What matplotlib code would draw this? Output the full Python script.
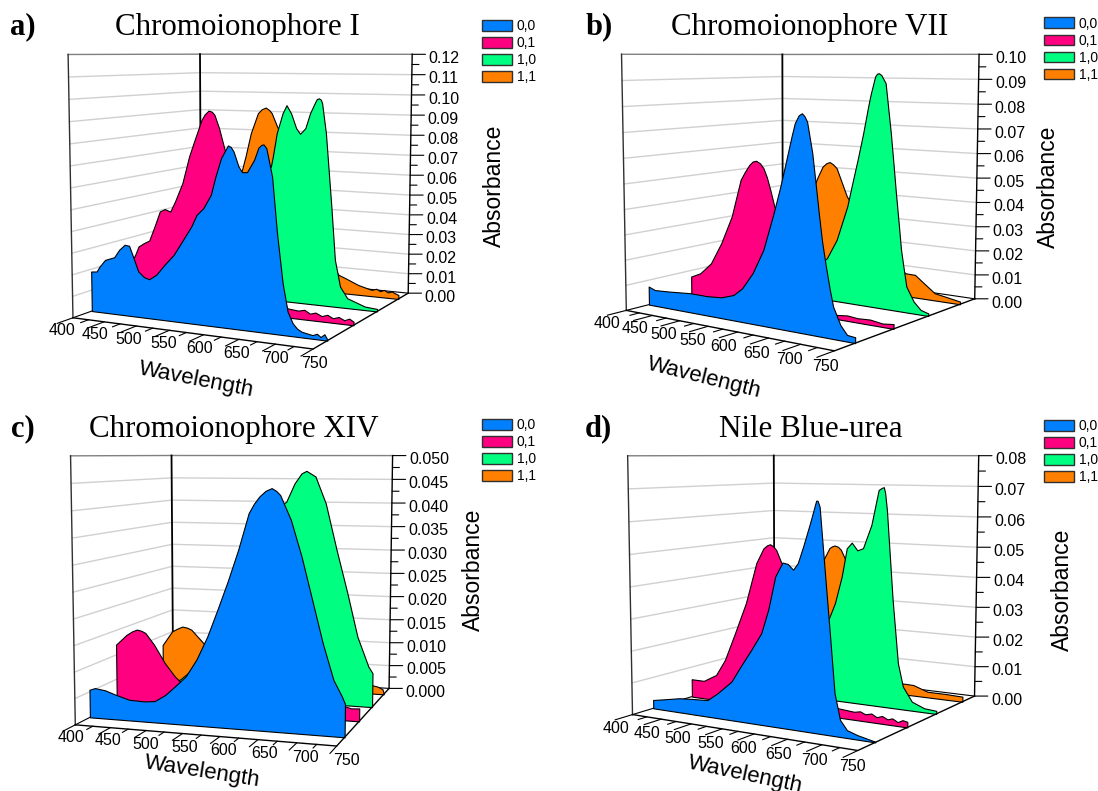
import numpy as np
from matplotlib import pyplot as plt
from matplotlib.patches import Patch
from mpl_toolkits.mplot3d.art3d import Poly3DCollection
from mpl_toolkits.mplot3d import proj3d

W, H = 1098, 791
S = 600.
plt.rcParams['font.family'] = ['Liberation Sans', 'DejaVu Sans']

SERIES = ['0,0', '0,1', '1,0', '1,1']
COLORS = ['#0080FF', '#FF0080', '#00FF80', '#FF8000']
DEPTH = [0.125, 0.375, 0.625, 0.875]

## panel a
A0_WL = [400,409,414,423,438,446,455,462,468,476,485,493,504,517,531,544,558,566,576,587,594,602,612,616,620,627,632,639,649,655,659,662,666,674,681,689,696,703,709,715,730,736,741,746,750]
A0_AB = [.0189,.0192,.0217,.0251,.0268,.0305,.0331,.0328,.0280,.0213,.0189,.0182,.0206,.0256,.0305,.0370,.0441,.0495,.0527,.0588,.0671,.0752,.0809,.0803,.0784,.0720,.0696,.0697,.0752,.0805,.0817,.0820,.0804,.0684,.0442,.0227,.0105,.0057,.0036,.0025,.0016,.0024,.0012,.0026,.0005]
A1_WL = [400,414,421,430,439,448,457,465,474,482,494,505,514,525,530,536,541,545,552,560,571,592,616,632,645,653,655,671,680,688,696,705,713,721,729,737,744,750]
A1_AB = [.0181,.0215,.0267,.0286,.0301,.0372,.0448,.0461,.0451,.0502,.0592,.0721,.0801,.0896,.0922,.0940,.0935,.0921,.0860,.0767,.0653,.0625,.0737,.0540,.0141,.0058,.0043,.0038,.0045,.0030,.0038,.0025,.0034,.0021,.0030,.0018,.0028,.0016]
A2_WL = [400,436,466,490,519,548,570,588,591,597,606,612,619,627,633,641,648,656,658,661,664,666,672,681,687,695,706,717,732,750]
A2_AB = [.0080,.0120,.0198,.0307,.0448,.0554,.0607,.0659,.0708,.0822,.0919,.0958,.0920,.0849,.0823,.0851,.0923,.0978,.0990,.0994,.0988,.0971,.0830,.0483,.0228,.0101,.0048,.0035,.0017,.0012]
A3_WL = [400,416,442,466,491,497,503,512,524,530,537,543,547,556,573,591,608,631,648,657,668,688,709,716,722,728,734,740,746,750]
A3_AB = [.0036,.0117,.0251,.0400,.0564,.0600,.0671,.0793,.0898,.0918,.0928,.0915,.0900,.0832,.0715,.0598,.0465,.0264,.0132,.0092,.0078,.0050,.0032,.0040,.0030,.0038,.0028,.0034,.0025,.0020]
## panel b
B0_WL = [400,412,439,478,510,535,556,571,589,607,624,635,647,653,658,664,669,673,677,685,690,695,700,706,712,717,728,738,750]
B0_AB = [.0074,.0064,.0068,.0076,.0076,.0081,.0098,.0129,.0193,.0286,.0426,.0526,.0648,.0710,.0757,.0785,.0793,.0783,.0764,.0654,.0550,.0444,.0345,.0256,.0175,.0117,.0055,.0024,.0021]
B1_WL = [400,418,439,459,479,496,504,512,518,524,531,537,543,549,556,579,603,632,655,661,678,694,714,733,750]
B1_AB = [.0074,.0094,.0143,.0233,.0348,.0501,.0535,.0564,.0578,.0582,.0573,.0555,.0520,.0471,.0407,.0281,.0170,.0089,.0026,.0016,.0021,.0017,.0020,.0013,.0018]
B2_WL = [400,458,492,524,556,582,599,617,625,634,643,651,655,662,665,668,672,679,688,693,697,702,706,711,715,727,738,750]
B2_AB = [.0000,.0024,.0043,.0076,.0115,.0172,.0253,.0394,.0485,.0584,.0690,.0797,.0845,.0914,.0925,.0927,.0920,.0889,.0697,.0570,.0465,.0345,.0245,.0165,.0103,.0047,.0019,.0010]
B3_WL = [400,423,458,485,501,511,518,524,530,537,547,556,575,601,625,650,661,676,691,709,729,750]
B3_AB = [.0040,.0077,.0209,.0365,.0464,.0516,.0532,.0538,.0530,.0514,.0451,.0395,.0328,.0248,.0170,.0107,.0096,.0095,.0065,.0030,.0021,.0011]
## panel c
C0_WL = [400,408,423,438,458,479,494,509,523,538,553,568,582,596,610,624,631,638,646,654,660,665,679,693,707,721,735,746,750]
C0_AB = [.0054,.0058,.0055,.0048,.0040,.0039,.0041,.0054,.0072,.0092,.0125,.0169,.0220,.0273,.0331,.0398,.0415,.0428,.0438,.0443,.0438,.0431,.0387,.0322,.0245,.0168,.0103,.0074,.0061]
C1_WL = [400,416,425,432,439,445,458,474,489,499,520,567,617,666,715,731,739,750]
C1_AB = [.0121,.0142,.0150,.0154,.0152,.0148,.0125,.0089,.0063,.0051,.0033,.0024,.0022,.0023,.0025,.0027,.0024,.0025]
C2_WL = [400,433,463,488,510,537,564,590,624,636,646,653,666,681,697,713,728,744,750]
C2_AB = [.0002,.0013,.0031,.0061,.0133,.0225,.0316,.0378,.0408,.0445,.0465,.0470,.0459,.0406,.0314,.0228,.0141,.0082,.0069]
C3_WL = [400,416,425,433,441,448,468,508,564,619,674,732,740,748,750]
C3_AB = [.0079,.0111,.0118,.0123,.0121,.0117,.0088,.0039,.0022,.0016,.0017,.0018,.0016,.0011,.0002]
## panel d
D0_WL = [400,421,446,470,494,511,534,549,566,582,593,604,615,623,631,638,646,656,665,667,670,677,685,692,700,710,725,750]
D0_AB = [.0027,.0035,.0045,.0049,.0052,.0078,.0120,.0170,.0224,.0278,.0350,.0450,.0492,.0489,.0473,.0493,.0542,.0609,.0674,.0674,.0657,.0488,.0298,.0126,.0050,.0023,.0013,.0002]
D1_WL = [400,422,444,460,478,497,515,527,533,538,543,548,556,578,605,628,641,647,671,680,688,697,705,713,721,728,736,743,750]
D1_AB = [.0059,.0059,.0084,.0138,.0230,.0331,.0462,.0510,.0520,.0524,.0518,.0507,.0469,.0396,.0338,.0176,.0033,.0029,.0025,.0029,.0022,.0027,.0018,.0024,.0016,.0021,.0012,.0020,.0017]
D2_WL = [400,412,460,510,552,578,590,601,609,617,626,635,648,659,664,667,669,672,682,691,699,713,732,750]
D2_AB = [.0005,.0012,.0060,.0140,.0205,.0260,.0323,.0412,.0504,.0523,.0499,.0507,.0582,.0693,.0700,.0702,.0685,.0631,.0348,.0147,.0074,.0029,.0013,.0010]
D3_WL = [400,427,467,498,520,529,533,538,544,549,557,578,608,632,652,672,695,723,750]
D3_AB = [.0020,.0066,.0232,.0367,.0446,.0482,.0488,.0492,.0488,.0478,.0444,.0332,.0199,.0089,.0037,.0036,.0019,.0019,.0017]

ZTICKS_A = [.00,.01,.02,.03,.04,.05,.06,.07,.08,.09,.10,.11,.12]
ZTICKS_B = [.00,.01,.02,.03,.04,.05,.06,.07,.08,.09,.10]
ZTICKS_C = [.000,.005,.010,.015,.020,.025,.030,.035,.040,.045,.050]
ZTICKS_D = [.00,.01,.02,.03,.04,.05,.06,.07,.08]
WLTICKS = [400,450,500,550,600,650,700,750]

TITLES = ['Chromoionophore I', 'Chromoionophore VII', 'Chromoionophore XIV', 'Nile Blue-urea']
LETTERS = ['a)', 'b)', 'c)', 'd)']

## view of each panel: elev, azim, focal length, zoom, aspect, axes left, axes bottom (px)
CAMS = [(6.580, -63.111, .3438, .7063, (1, .9992, 1.0000), -59.37, 301.64),
        (6.501, -53.318, .3399, .7062, (1, 1.0038, 1.0003), 496.46, 301.90),
        (6.557, -72.273, .3436, .7051, (1, 1.0046, .9999), -64.61, -99.22),
        (6.593, -58.436, .3405, .7044, (1, 1.0018, .9980), 501.71, -99.09)]

## tick label offsets (px) at 400 and at 750
WL_OFFS = [((-11.2, 12.7), (1.8, 14.7)), ((-19.2, 12.7), (-9.4, 16)), ((-3.9, 13), (10.2, 14.7)), ((-16.1, 13.7), (-5.9, 16))]
ABS_POS = [(494, 186), (1048, 187), (473, 570), (1062, 590)]
WAVE_POS = [(196, 380, -11), (704.5, 378, -14), (202, 772, -9), (745, 775, -12)]
TITLE_POS = [(237, 27), (810, 27), (234, 429), (811, 429)]
LETTER_POS = [(10, 27), (586, 27), (11, 429), (585, 429)]
LEG_POS = [(482, 19), (1043.7, 16.7), (482, 418), (1043.7, 419.3)]

fig = plt.figure(figsize=(W/100, H/100), dpi=100)


def draw_panel(i, data, zticks, fmt, zminor):
	elev, azim, focal, zoom, aspect, left, bottom = CAMS[i]
	zmax = zticks[-1]
	ax = fig.add_axes([left/W, bottom/H, S/W, S/H], projection='3d', computed_zorder=False)
	ax.set_xlim(400, 750, view_margin=0)
	ax.set_ylim(0, 1, view_margin=0)
	ax.set_zlim(0, zmax, view_margin=0)
	ax.view_init(elev=elev, azim=azim, roll=0)
	ax.set_proj_type('persp', focal_length=focal)
	ax.set_box_aspect(aspect, zoom=zoom)
	ax.set_axis_off()
	ax.patch.set_visible(False)
	M = ax.get_proj()

	## walls
	for z in zticks[1:-1]:
		ax.plot([400, 400, 750], [0, 1, 1], [z, z, z], color='#d0d0d0', lw=1, zorder=1)
	ax.plot([400, 400, 750], [0, 1, 1], [zmax]*3, color='#808080', lw=1, zorder=1)
	ax.plot([400, 400], [0, 0], [0, zmax], color='#303030', lw=1, zorder=1)
	ax.plot([400, 400], [1, 1], [0, zmax], color='k', lw=1.3, zorder=1)
	ax.plot([400, 400, 750], [0, 1, 1], [0, 0, 0], color='k', lw=.8, zorder=1)

	## spectra, back to front
	for k in (3, 2, 1, 0):
		wl, ab = data[k]
		verts = [(400, DEPTH[k], 0)] + [(a, DEPTH[k], b) for a, b in zip(wl, ab)] + [(750, DEPTH[k], 0)]
		poly = Poly3DCollection([verts], facecolors=COLORS[k], edgecolors='k', linewidths=.8, zorder=5-k+1)
		ax.add_collection3d(poly)

	## front edges
	ax.plot([400, 750, 750], [0, 0, 1], [0, 0, 0], color='k', lw=1, zorder=8)
	ax.plot([750, 750], [1, 1], [0, zmax], color='k', lw=1, zorder=8)

	## wavelength ticks
	for w in range(400, 751, 25):
		major = w in WLTICKS
		ax.plot([w, w], [0, -.10 if major else -.05], [0, 0], color='k', lw=.8, zorder=8)
	(dx0, dy0), (dx1, dy1) = WL_OFFS[i]
	for w in WLTICKS:
		t = (w-400)/350.
		x, y, _ = proj3d.proj_transform(w, 0, 0, M)
		ax.annotate(str(w), (x, y), xytext=(dx0+t*(dx1-dx0), -(dy0+t*(dy1-dy0))), textcoords='offset pixels',
					ha='center', va='center', fontsize=11.5)

	## absorbance ticks
	for z in np.arange(0, zmax+zminor/2, zminor):
		x, y, _ = proj3d.proj_transform(750, 1, z, M)
		major = int(round(z/zminor)) % 2 == 0
		ax.annotate('', (x, y), xytext=(13.3 if major else 7, 0), textcoords='offset pixels',
					arrowprops=dict(arrowstyle='-', lw=.8, color='k', shrinkA=0, shrinkB=0))
	for z in zticks:
		x, y, _ = proj3d.proj_transform(750, 1, z, M)
		ax.annotate(fmt % z, (x, y), xytext=(16.5, -4.3), textcoords='offset pixels',
					ha='left', va='center', fontsize=11.5)

	fig.text(ABS_POS[i][0]/W, 1-ABS_POS[i][1]/H, 'Absorbance', rotation=90, ha='center', va='center', fontsize=16.5)
	fig.text(WAVE_POS[i][0]/W, 1-WAVE_POS[i][1]/H, 'Wavelength', rotation=WAVE_POS[i][2], ha='center', va='center',
			fontsize=16, rotation_mode='anchor')
	fig.text(TITLE_POS[i][0]/W, 1-TITLE_POS[i][1]/H, TITLES[i], family='Liberation Serif', ha='center', va='center', fontsize=22.3)
	fig.text(LETTER_POS[i][0]/W, 1-LETTER_POS[i][1]/H, LETTERS[i], family='Liberation Serif', weight='bold', ha='left', va='center', fontsize=22)
	handles = [Patch(facecolor=c, edgecolor='#303030', lw=1) for c in COLORS]
	fig.legend(handles, SERIES, loc='upper left', bbox_to_anchor=(LEG_POS[i][0]/W, 1-LEG_POS[i][1]/H), frameon=False,
			fontsize=10, handlelength=2.15, handleheight=.82, labelspacing=.22, borderpad=0, borderaxespad=0, handletextpad=.36)


if __name__ == '__main__':
	draw_panel(0, [(A0_WL, A0_AB), (A1_WL, A1_AB), (A2_WL, A2_AB), (A3_WL, A3_AB)], ZTICKS_A, '%.2f', .005)
	draw_panel(1, [(B0_WL, B0_AB), (B1_WL, B1_AB), (B2_WL, B2_AB), (B3_WL, B3_AB)], ZTICKS_B, '%.2f', .005)
	draw_panel(2, [(C0_WL, C0_AB), (C1_WL, C1_AB), (C2_WL, C2_AB), (C3_WL, C3_AB)], ZTICKS_C, '%.3f', .0025)
	draw_panel(3, [(D0_WL, D0_AB), (D1_WL, D1_AB), (D2_WL, D2_AB), (D3_WL, D3_AB)], ZTICKS_D, '%.2f', .005)

	fig.savefig('out.png', dpi=100)
